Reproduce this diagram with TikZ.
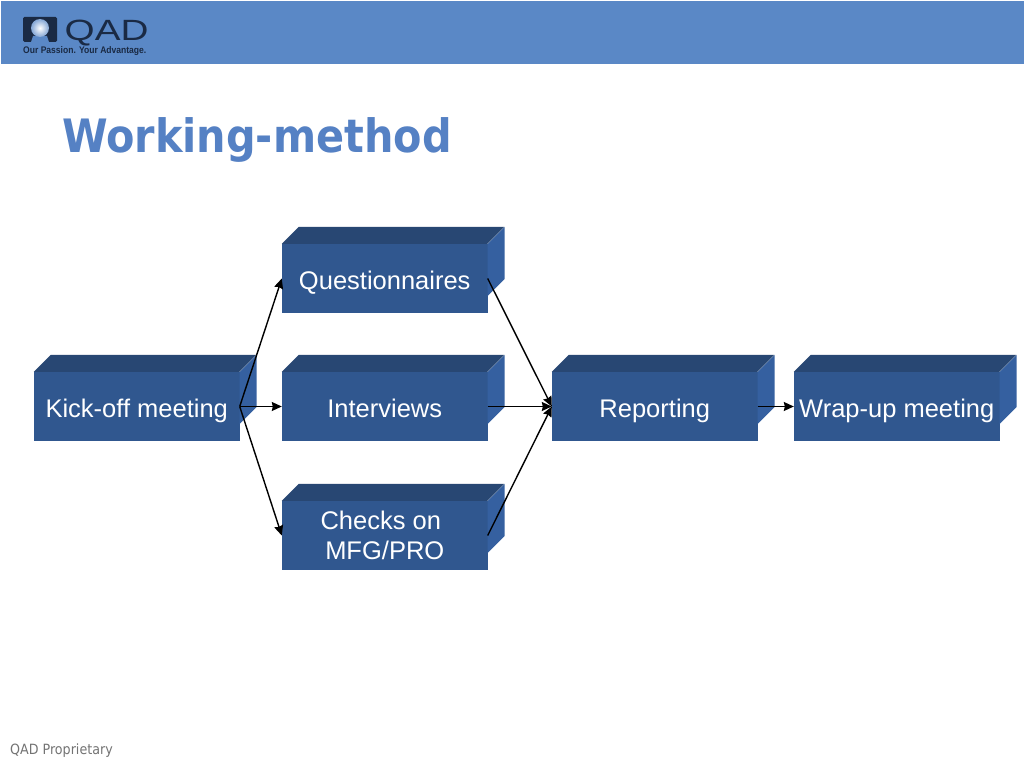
\documentclass[tikz,border=0pt]{standalone}
\usepackage{fontspec}
\setmainfont{Liberation Sans}
\newfontfamily\tahomalike{DejaVu Sans Condensed}
\usetikzlibrary{arrows.meta}
\definecolor{hdr}{HTML}{5A88C6}
\definecolor{ttl}{HTML}{5581C4}
\definecolor{front}{HTML}{30578F}
\definecolor{topf}{HTML}{284773}
\definecolor{sidef}{HTML}{3560A0}
\definecolor{logod}{HTML}{1A2A44}
\tikzset{
  x=1pt,y=-1pt,
  boxfront/.style={minimum width=205.5pt,minimum height=69pt,inner sep=0pt,fill=front,text=white,align=center,
    text height=21pt,text depth=0pt,font=\fontsize{25.5}{30.5}\selectfont},
  link/.style={draw=black,line width=1.4pt,-{Stealth[length=10pt,width=9pt,inset=1pt]}},
}
\newcommand{\boxsides}[1]{%
  \fill[topf] (#1.north west) -- ++(17,-17) -- ++(205.5,0) -- ++(-17,17) -- cycle;
  \fill[sidef] (#1.north east) -- ++(17,-17) -- ++(0,52) -- ++(-17,17) -- cycle;
}
\begin{document}
\begin{tikzpicture}
\useasboundingbox (0,0) rectangle (1024,768);
\fill[white] (0,0) rectangle (1024,768);
\fill[hdr] (1,1) rectangle (1024,64);
% logo
\fill[logod,rounded corners=1.5pt] (23,17) rectangle (57,42);
\fill[hdr] (31,42.2) -- (33,36) -- (47,36) -- (49,42.2) -- cycle;
\shade[inner color=white,outer color=hdr!75!white] (40,28) circle (9);
\node[anchor=base west,inner sep=0pt,text=logod,font=\fontsize{29.3}{29}\selectfont] (qad) at (64.5,41) {\scalebox{1.32}[1]{QAD}};
\node[anchor=base west,inner sep=0pt,text=logod,font=\bfseries\fontsize{9.6}{10}\selectfont] (tag) at (23,54) {\scalebox{0.89}[1]{Our Passion. Your Advantage.}};
% title
\node[anchor=base west,inner sep=0pt,text=ttl,font=\tahomalike\bfseries\fontsize{46}{50}\selectfont] (title) at (62,152) {Working-method};
% boxes
\node[boxfront] (kick) at (136.75,406.5) {Kick-off meeting};
\node[boxfront] (ques) at (384.75,278.5) {Questionnaires};
\node[boxfront] (intv) at (384.75,406.5) {Interviews};
\node[boxfront,text height=48.5pt] (chek) at (384.75,535.5) {Checks on\hspace*{8pt}\\MFG/PRO};
\node[boxfront] (repo) at (654.75,406.5) {Reporting};
\node[boxfront] (wrap) at (896.75,406.5) {Wrap-up meeting};
\boxsides{kick}\boxsides{ques}\boxsides{intv}\boxsides{chek}\boxsides{repo}\boxsides{wrap}
% connectors
\draw[link] (kick.east) -- (ques.west);
\draw[link] (kick.east) -- (intv.west);
\draw[link] (kick.east) -- (chek.west);
\draw[link] (ques.east) -- (repo.west);
\draw[link] (intv.east) -- (repo.west);
\draw[link] (chek.east) -- (repo.west);
\draw[link] (repo.east) -- (wrap.west);
% footer
\node[anchor=base west,inner sep=0pt,text=black!55,font=\tahomalike\fontsize{14.1}{16}\selectfont] (foot) at (10,754) {QAD Proprietary};
\end{tikzpicture}
\end{document}
